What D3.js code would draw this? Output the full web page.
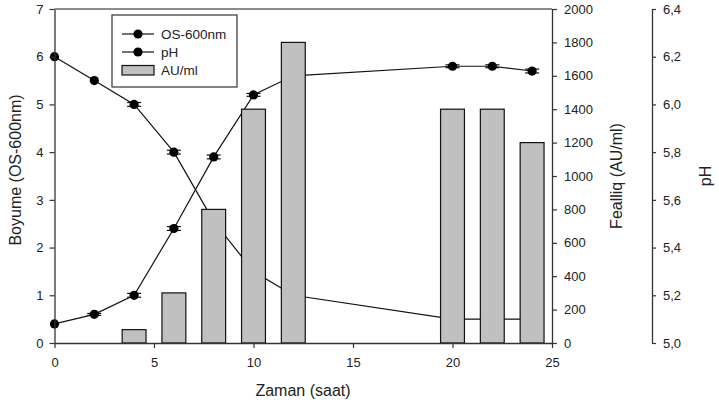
<!DOCTYPE html>
<html><head><meta charset="utf-8">
<script src="https://cdn.jsdelivr.net/npm/d3@7"></script>
<style>body{margin:0;background:#fff}svg{display:block;font-family:"Liberation Sans",Arial,sans-serif}</style>
</head><body><svg id="c" width="719" height="404"></svg>
<script>
const times = [0, 2, 4, 6, 8, 10, 12, 20, 22, 24];
const growth = [0.4, 0.6, 1.0, 2.4, 3.9, 5.2, 5.6, 5.8, 5.8, 5.7];
const growthErr = [0, 0.02, 0.04, 0.04, 0.04, 0.03, 0, 0.03, 0.03, 0.04];
const pH = [6.2, 6.1, 6.0, 5.8, 5.51, 5.3, 5.2, 5.1, 5.1, 5.1];
const pHErr = [0, 0, 0.008, 0.008, 0, 0, 0, 0, 0, 0];
const barTimes = [4, 6, 8, 10, 12, 20, 22, 24];
const activity = [80, 300, 800, 1400, 1800, 1400, 1400, 1200];
const xTicks = [0, 5, 10, 15, 20, 25];
const leftTicks = [0, 1, 2, 3, 4, 5, 6, 7];
const auTicks = [0, 200, 400, 600, 800, 1000, 1200, 1400, 1600, 1800, 2000];
const pHTicks = [5.0, 5.2, 5.4, 5.6, 5.8, 6.0, 6.2, 6.4];
const legendLabels = ["OS-600nm", "pH", "AU/ml"];

const svg = d3.select("#c");
const L = 54.5, R = 552, T = 9, B = 343;
const x = d3.scaleLinear().domain([0, 25]).range([L, R]);
const yL = d3.scaleLinear().domain([0, 7]).range([B, T]);
const yAU = d3.scaleLinear().domain([0, 2000]).range([B, T]);
const yPH = d3.scaleLinear().domain([5.0, 6.4]).range([B, T]);
const axisCol = "#333";

// lines (drawn beneath bars)
const lineG = d3.line().x((d, i) => x(times[i])).y(d => yL(d));
const linePH = d3.line().x((d, i) => x(times[i])).y(d => yPH(d));
svg.append("path").attr("d", lineG(growth)).attr("fill", "none").attr("stroke", "#111").attr("stroke-width", 1.2);
svg.append("path").attr("d", linePH(pH)).attr("fill", "none").attr("stroke", "#111").attr("stroke-width", 1.2);

function markers(vals, errs, ys) {
  const g = svg.append("g");
  vals.forEach((v, i) => {
    const cx = x(times[i]), cy = ys(v);
    if (errs[i] > 0) {
      const e = errs[i];
      g.append("line").attr("x1", cx).attr("x2", cx).attr("y1", ys(v + e)).attr("y2", ys(v - e)).attr("stroke", "#111").attr("stroke-width", 1);
      [v + e, v - e].forEach(w => g.append("line").attr("x1", cx - 7).attr("x2", cx + 7).attr("y1", ys(w)).attr("y2", ys(w)).attr("stroke", "#111").attr("stroke-width", 1.2));
    }
    g.append("circle").attr("cx", cx).attr("cy", cy).attr("r", 4.6).attr("fill", "#000");
  });
}
markers(growth, growthErr, yL);
markers(pH, pHErr, yPH);

// bars on top
const bw = x(1.2) - x(0);
svg.append("g").selectAll("rect").data(activity).join("rect")
  .attr("x", (d, i) => x(barTimes[i]) - bw / 2).attr("width", bw)
  .attr("y", d => yAU(d)).attr("height", d => B - yAU(d))
  .attr("fill", "#c0c0c0").attr("stroke", "#111").attr("stroke-width", 1.2);

// frame top
svg.append("line").attr("x1", L).attr("x2", R).attr("y1", T).attr("y2", T).attr("stroke", "#666").attr("stroke-width", 1.3);

function styleAxis(g, fs) {
  g.selectAll(".domain").attr("stroke", axisCol).attr("stroke-width", 1.3);
  g.selectAll(".tick line").attr("stroke", axisCol).attr("stroke-width", 1.2);
  g.selectAll("text").attr("font-size", fs).attr("fill", "#222").attr("font-family", "Liberation Sans, Arial, sans-serif");
}
const ax = svg.append("g").attr("transform", `translate(0,${B})`).call(d3.axisBottom(x).tickValues(xTicks).tickSize(5).tickSizeOuter(0).tickPadding(10));
styleAxis(ax, 13);
const ayL = svg.append("g").attr("transform", `translate(${L},0)`).call(d3.axisLeft(yL).tickValues(leftTicks).tickSize(5).tickSizeOuter(0).tickPadding(6).tickFormat(d3.format("d")));
styleAxis(ayL, 13);
const ayAU = svg.append("g").attr("transform", `translate(${R},0)`).call(d3.axisRight(yAU).tickValues(auTicks).tickSize(5).tickSizeOuter(0).tickPadding(7).tickFormat(d3.format("d")));
styleAxis(ayAU, 13);
const ayPH = svg.append("g").attr("transform", `translate(652,0)`).call(d3.axisRight(yPH).tickValues(pHTicks).tickSize(4).tickSizeOuter(0).tickPadding(7).tickFormat(d => d.toFixed(1).replace(".", ",")));
styleAxis(ayPH, 13);

// titles
const tf = "Liberation Sans, Arial, sans-serif";
svg.append("text").attr("x", 303).attr("y", 396).attr("text-anchor", "middle").attr("font-size", 16).attr("fill", "#222").attr("font-family", tf).text("Zaman (saat)");
svg.append("text").attr("transform", "translate(21,170) rotate(-90)").attr("text-anchor", "middle").attr("font-size", 16).attr("fill", "#222").attr("font-family", tf).text("Boyume (OS-600nm)");
svg.append("text").attr("transform", "translate(622,176) rotate(-90)").attr("text-anchor", "middle").attr("font-size", 16).attr("fill", "#222").attr("font-family", tf).text("Fealliq (AU/ml)");
svg.append("text").attr("transform", "translate(711,176) rotate(-90)").attr("text-anchor", "middle").attr("font-size", 16).attr("fill", "#222").attr("font-family", tf).text("pH");

// legend
const lg = svg.append("g");
lg.append("rect").attr("x", 112).attr("y", 15).attr("width", 125).attr("height", 72).attr("fill", "#fff").attr("stroke", "#333").attr("stroke-width", 1.2);
const rowsY = [34, 52, 70];
legendLabels.forEach((lab, i) => {
  const yy = rowsY[i];
  if (i < 2) {
    lg.append("line").attr("x1", 122).attr("x2", 154).attr("y1", yy).attr("y2", yy).attr("stroke", "#111").attr("stroke-width", 1.2);
    lg.append("circle").attr("cx", 138).attr("cy", yy).attr("r", 4.6).attr("fill", "#000");
  } else {
    lg.append("rect").attr("x", 122).attr("y", yy - 4.5).attr("width", 32).attr("height", 9.5).attr("fill", "#c0c0c0").attr("stroke", "#111").attr("stroke-width", 1.2);
  }
  lg.append("text").attr("x", 161).attr("y", yy + 5).attr("font-size", 13.5).attr("fill", "#222").attr("font-family", tf).text(lab);
});
</script></body></html>
